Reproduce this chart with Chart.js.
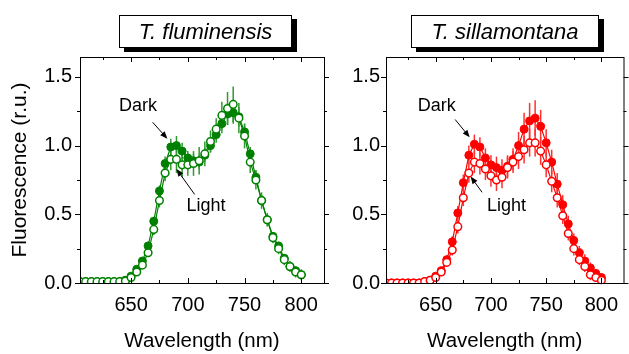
<!DOCTYPE html>
<html>
<head>
<meta charset="utf-8">
<script src="https://cdn.jsdelivr.net/npm/chart.js@4.4.0/dist/chart.umd.min.js"></script>
<style>
  html, body { margin:0; padding:0; background:#fff; }
  #wrap { position:relative; width:629px; height:354px; overflow:hidden; font-family:"Liberation Sans", Arial, sans-serif; }
  .panel { position:absolute; top:0; height:354px; }
  .tag { position:absolute; top:15px; height:31px; border:1.5px solid #000; background:#fff;
         box-shadow:5px 4px 0 #000; font-style:italic; font-size:22px; line-height:31px; text-align:center; }
</style>
</head>
<body>
<div id="wrap">
  <div class="panel" style="left:0;width:330px"><canvas id="left"></canvas></div>
  <div class="panel" style="left:330px;width:299px"><canvas id="right"></canvas></div>
  <div class="tag" style="left:119px;width:171px">T. fluminensis</div>
  <div class="tag" style="left:411px;width:186px">T. sillamontana</div>
</div>
<script>
const wavelengths = [605,610,615,620,625,630,635,640,645,650,655,660,665,670,675,680,685,690,695,700,
                     705,710,715,720,725,730,735,740,745,750,755,760,765,770,775,780,785,790,795,800];

const flumDark  = [0.01,0.01,0.01,0.01,0.01,0.01,0.01,0.01,0.02,0.05,0.10,0.16,0.27,0.45,0.67,0.87,0.99,1.00,0.96,0.91,
                   0.89,0.88,0.93,1.00,1.08,1.16,1.23,1.24,1.21,1.10,0.94,0.77,0.60,0.46,0.34,0.27,0.18,0.12,0.09,0.06];
const flumDarkErr = [0,0,0,0,0,0,0,0,0.01,0.01,0.02,0.02,0.03,0.03,0.04,0.05,0.06,0.07,0.06,0.05,
                     0.05,0.05,0.05,0.05,0.06,0.07,0.08,0.08,0.07,0.06,0.05,0.05,0.04,0.04,0.03,0.03,0.03,0.03,0.03,0.03];
const flumLight = [0.01,0.01,0.01,0.01,0.01,0.01,0.01,0.01,0.015,0.04,0.08,0.13,0.22,0.39,0.60,0.80,0.90,0.90,0.86,0.86,
                   0.87,0.89,0.94,1.03,1.12,1.22,1.27,1.30,1.20,1.07,0.88,0.75,0.60,0.46,0.33,0.25,0.17,0.12,0.08,0.06];
const flumLightErr = [0,0,0,0,0,0,0,0,0.01,0.01,0.02,0.02,0.03,0.04,0.05,0.06,0.08,0.10,0.09,0.08,
                      0.09,0.10,0.09,0.08,0.08,0.10,0.12,0.13,0.11,0.09,0.08,0.07,0.06,0.05,0.04,0.04,0.04,0.04,0.04,0.04];

const sillDark  = [0.00,0.00,0.00,0.00,0.00,0.00,0.00,0.01,0.02,0.05,0.09,0.17,0.30,0.51,0.73,0.93,1.01,0.99,0.91,0.86,
                   0.84,0.82,0.85,0.90,1.00,1.12,1.18,1.20,1.14,1.02,0.88,0.72,0.57,0.43,0.31,0.22,0.16,0.11,0.07,0.04];
const sillDarkErr = [0,0,0,0,0,0,0,0,0.01,0.01,0.02,0.03,0.04,0.05,0.06,0.07,0.07,0.07,0.07,0.07,
                     0.08,0.08,0.08,0.08,0.10,0.12,0.13,0.13,0.12,0.10,0.09,0.08,0.07,0.06,0.05,0.05,0.05,0.04,0.03,0.03];
const sillLight = [0.00,0.00,0.00,0.00,0.00,0.00,0.00,0.01,0.02,0.04,0.08,0.15,0.24,0.41,0.62,0.80,0.88,0.87,0.83,0.78,
                   0.75,0.77,0.84,0.88,0.92,0.97,1.02,1.02,0.96,0.86,0.74,0.62,0.49,0.36,0.25,0.17,0.12,0.06,0.04,0.02];
const sillLightErr = [0,0,0,0,0,0,0,0,0.01,0.01,0.02,0.03,0.04,0.05,0.06,0.07,0.08,0.08,0.08,0.08,
                      0.08,0.08,0.08,0.08,0.09,0.10,0.10,0.10,0.10,0.09,0.08,0.07,0.06,0.05,0.05,0.04,0.04,0.04,0.03,0.03];

const xMajor = [650,700,750,800];
const xMinor = [625,675,725,775];
const yMajor = [0,0.5,1.0,1.5];
const yMinor = [0.25,0.75,1.25];

// annotation labels and arrows, in data units: [text, x, y], arrows [x1,y1,x2,y2]
const flumNotes  = [['Dark',656,1.29],['Light',716,0.56]];
const flumArrows = [[669,1.17,682,1.05],[706,0.645,690,0.83]];
const sillNotes  = [['Dark',651,1.29],['Light',714,0.56]];
const sillArrows = [[667.6,1.19,680.8,1.06],[692,0.66,681.6,0.775]];

const FONT = '"Liberation Sans", Arial, sans-serif';

function pts(ys){ return ys.map((v,i)=>({x:wavelengths[i], y:v})); }

const errorBars = {
  id:'errorBars',
  beforeDatasetsDraw(chart){
    const {ctx, scales:{x,y}} = chart;
    ctx.save();
    chart.data.datasets.forEach(ds=>{
      ctx.strokeStyle = ds.errColor;
      ctx.lineWidth = 1.5;
      ds.data.forEach((p,i)=>{
        const e = ds.errors[i];
        if(!e) return;
        const px = x.getPixelForValue(p.x);
        ctx.beginPath();
        ctx.moveTo(px, y.getPixelForValue(p.y - e));
        ctx.lineTo(px, y.getPixelForValue(p.y + e));
        ctx.stroke();
      });
    });
    ctx.restore();
  }
};

const frame = {
  id:'frame',
  afterDraw(chart){
    const {ctx, chartArea:a, scales:{x,y}} = chart;
    const o = chart.options.plugins.frame;
    ctx.save();
    ctx.strokeStyle = '#000';
    ctx.lineWidth = 1;
    ctx.strokeRect(a.left+0.5, a.top+0.5, a.right-a.left, a.bottom-a.top);
    ctx.beginPath();
    const xt = (v,len)=>{
      const px = Math.round(x.getPixelForValue(v))+0.5;
      ctx.moveTo(px, a.bottom); ctx.lineTo(px, a.bottom-len);
      ctx.moveTo(px, a.top); ctx.lineTo(px, a.top+len);
    };
    const yt = (v,len)=>{
      const py = Math.round(y.getPixelForValue(v))+0.5;
      ctx.moveTo(a.left, py); ctx.lineTo(a.left-len, py);
      ctx.moveTo(a.right, py); ctx.lineTo(a.right+len, py);
    };
    xMajor.forEach(v=>xt(v,5)); xMinor.forEach(v=>xt(v,3));
    yMajor.forEach(v=>yt(v,5)); yMinor.forEach(v=>yt(v,3));
    ctx.stroke();

    // annotations
    ctx.fillStyle = '#000';
    ctx.font = '18px ' + FONT;
    ctx.textAlign = 'center';
    ctx.textBaseline = 'middle';
    o.notes.forEach(([t,vx,vy])=>ctx.fillText(t, x.getPixelForValue(vx), y.getPixelForValue(vy)));
    o.arrows.forEach(([x1,y1,x2,y2])=>{
      const ax = x.getPixelForValue(x1), ay = y.getPixelForValue(y1);
      const bx = x.getPixelForValue(x2), by = y.getPixelForValue(y2);
      const ang = Math.atan2(by-ay, bx-ax);
      ctx.beginPath();
      ctx.moveTo(ax, ay); ctx.lineTo(bx - 5*Math.cos(ang), by - 5*Math.sin(ang));
      ctx.lineWidth = 1; ctx.stroke();
      ctx.beginPath();
      ctx.moveTo(bx, by);
      ctx.lineTo(bx - 8*Math.cos(ang-0.38), by - 8*Math.sin(ang-0.38));
      ctx.lineTo(bx - 8*Math.cos(ang+0.38), by - 8*Math.sin(ang+0.38));
      ctx.closePath(); ctx.fill();
    });
    ctx.restore();
  }
};

function makeChart(id, dark, darkErr, light, lightErr, color, errColor, opts){
  new Chart(document.getElementById(id), {
    type:'line',
    data:{ datasets:[
      { label:'Light', data:pts(light), errors:lightErr, errColor:errColor,
        borderColor:color, borderWidth:1.2, pointRadius:3.8, pointBorderWidth:1.5,
        pointBackgroundColor:'#fff', pointBorderColor:color, fill:false, tension:0 },
      { label:'Dark', data:pts(dark), errors:darkErr, errColor:errColor,
        borderColor:color, borderWidth:1.2, pointRadius:4, pointBorderWidth:1,
        pointBackgroundColor:color, pointBorderColor:color, fill:false, tension:0 }
    ]},
    options:{
      responsive:false, animation:false,
      layout:{ padding:{ top:57, right:opts.padRight, left:0, bottom:0 } },
      plugins:{ legend:{display:false}, tooltip:{enabled:false},
        frame:{ notes:opts.notes, arrows:opts.arrows } },
      scales:{
        x:{ type:'linear', min:605, max:820,
          afterBuildTicks(s){ s.ticks = xMajor.map(v=>({value:v})); },
          afterFit(s){ s.height = 71; },
          grid:{display:false, drawTicks:false}, border:{display:false},
          ticks:{ color:'#000', padding:10, font:{family:FONT, size:20}, maxRotation:0 },
          title:{ display:true, text:'Wavelength (nm)', color:'#000', padding:{top:0,bottom:0},
                  font:{family:FONT, size:20.5} } },
        y:{ type:'linear', min:0, max:1.645,
          afterBuildTicks(s){ s.ticks = yMajor.map(v=>({value:v})); },
          afterFit(s){ s.width = opts.yWidth; },
          grid:{display:false, drawTicks:false}, border:{display:false},
          ticks:{ color:'#000', padding:opts.yPad, font:{family:FONT, size:20},
                  callback:v=>v.toFixed(1) },
          title:{ display:opts.yTitle, text:'Fluorescence (r.u.)', color:'#000', padding:{top:8,bottom:0},
                  font:{family:FONT, size:21} } }
      }
    },
    plugins:[errorBars, frame]
  });
}

document.getElementById('left').width = 330;  document.getElementById('left').height = 354;
document.getElementById('right').width = 299; document.getElementById('right').height = 354;

makeChart('left', flumDark, flumDarkErr, flumLight, flumLightErr, '#008000', '#2e9a2e',
  { padRight:6, yWidth:80, yPad:8, yTitle:true, notes:flumNotes, arrows:flumArrows });
makeChart('right', sillDark, sillDarkErr, sillLight, sillLightErr, '#ff0000', '#ff3030',
  { padRight:1, yWidth:56, yPad:6, yTitle:false, notes:sillNotes, arrows:sillArrows });
</script>
</body>
</html>
